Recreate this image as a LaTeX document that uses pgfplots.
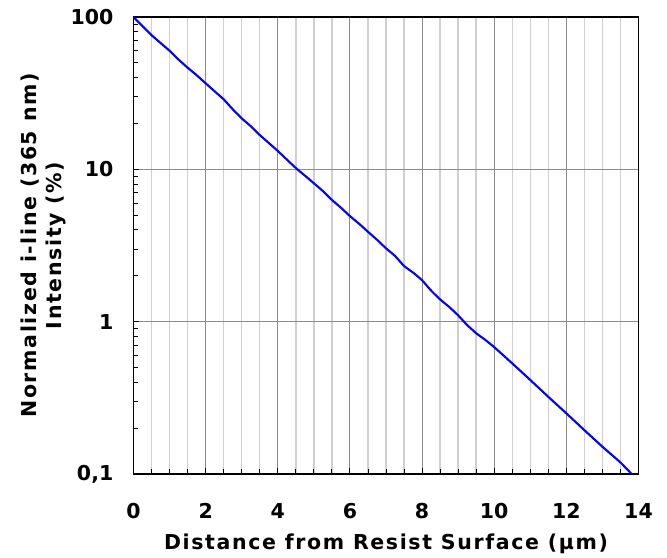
\documentclass[border=0pt]{standalone}
\usepackage{fontspec}
\setmainfont{DejaVu Sans}
\newfontfamily\labfont{DejaVu Sans}[LetterSpace=8]
\usepackage{pgfplots}
\pgfplotsset{compat=1.18}
\definecolor{majgrid}{HTML}{8C8C8C}
\definecolor{mingrid}{HTML}{CFCFCF}
\begin{document}
\begin{tikzpicture}
\begin{semilogyaxis}[
  scale only axis,
  width=505bp, height=457bp,
  xmin=0, xmax=14, ymin=0.1, ymax=100,
  xtick={0,2,...,14},
  xticklabels={0,2,4,6,8,10,12,14},
  minor x tick num=3,
  ytick={0.1,1,10,100},
  yticklabels={{0,1},1,10,100},
  xtick pos=left, ytick pos=left,
  tick align=inside,
  major tick length=6bp, minor tick length=5bp,
  every tick/.style={black, line width=0.9bp},
  xmajorgrids, xminorgrids, ymajorgrids,
  major grid style={majgrid, line width=1.1bp},
  minor x grid style={mingrid, line width=1.4bp},
  axis line style={black, line width=1.3bp},
  tick label style={font=\fontsize{20.5bp}{24bp}\selectfont\bfseries},
  xticklabel style={anchor=base, inner sep=0pt, yshift=-45bp},
  yticklabel style={anchor=east, inner sep=0pt, xshift=-20bp},
  xlabel={Distance from Resist Surface (µm)},
  ylabel={Normalized i-line (365 nm)\\Intensity (\%)},
  every axis x label/.style={at={(axis description cs:0.5,0)}, anchor=base, yshift=-76bp,
     font=\labfont\fontsize{20.5bp}{25bp}\selectfont\bfseries},
  every axis y label/.style={at={(axis description cs:0,0.5)}, rotate=90, anchor=center,
     yshift=90bp, align=center, font=\labfont\fontsize{20.5bp}{25bp}\selectfont\bfseries},
]
\addplot[blue, line width=2.1bp, smooth, tension=0.3] coordinates {
(0,100) (0.25,87) (0.5,76) (0.75,67.5) (1,60) (1.25,52.5) (1.5,46.5) (1.75,41.5) (2,36.7)
(2.25,32.5) (2.5,28.8) (2.75,24.8) (3,21.6) (3.25,19.2) (3.5,16.8) (3.75,14.9) (4,13.2)
(4.25,11.6) (4.5,10.2) (4.75,9.1) (5,8.1) (5.25,7.2) (5.5,6.3) (5.75,5.6) (6,4.93)
(6.25,4.4) (6.5,3.89) (6.75,3.45) (7,3.03) (7.25,2.7) (7.5,2.32) (7.75,2.1) (8,1.87)
(8.25,1.6) (8.5,1.4) (8.75,1.25) (9,1.1) (9.25,0.95) (9.5,0.84) (9.75,0.76) (10,0.68)
(10.5,0.532) (11,0.414) (11.5,0.321) (12,0.25) (12.5,0.194) (13,0.151) (13.5,0.119) (13.81,0.1)
};
\end{semilogyaxis}
\useasboundingbox (current axis.south west) ++(-133.5bp,-79bp) rectangle ++(667bp,553bp);
\end{tikzpicture}
\end{document}
